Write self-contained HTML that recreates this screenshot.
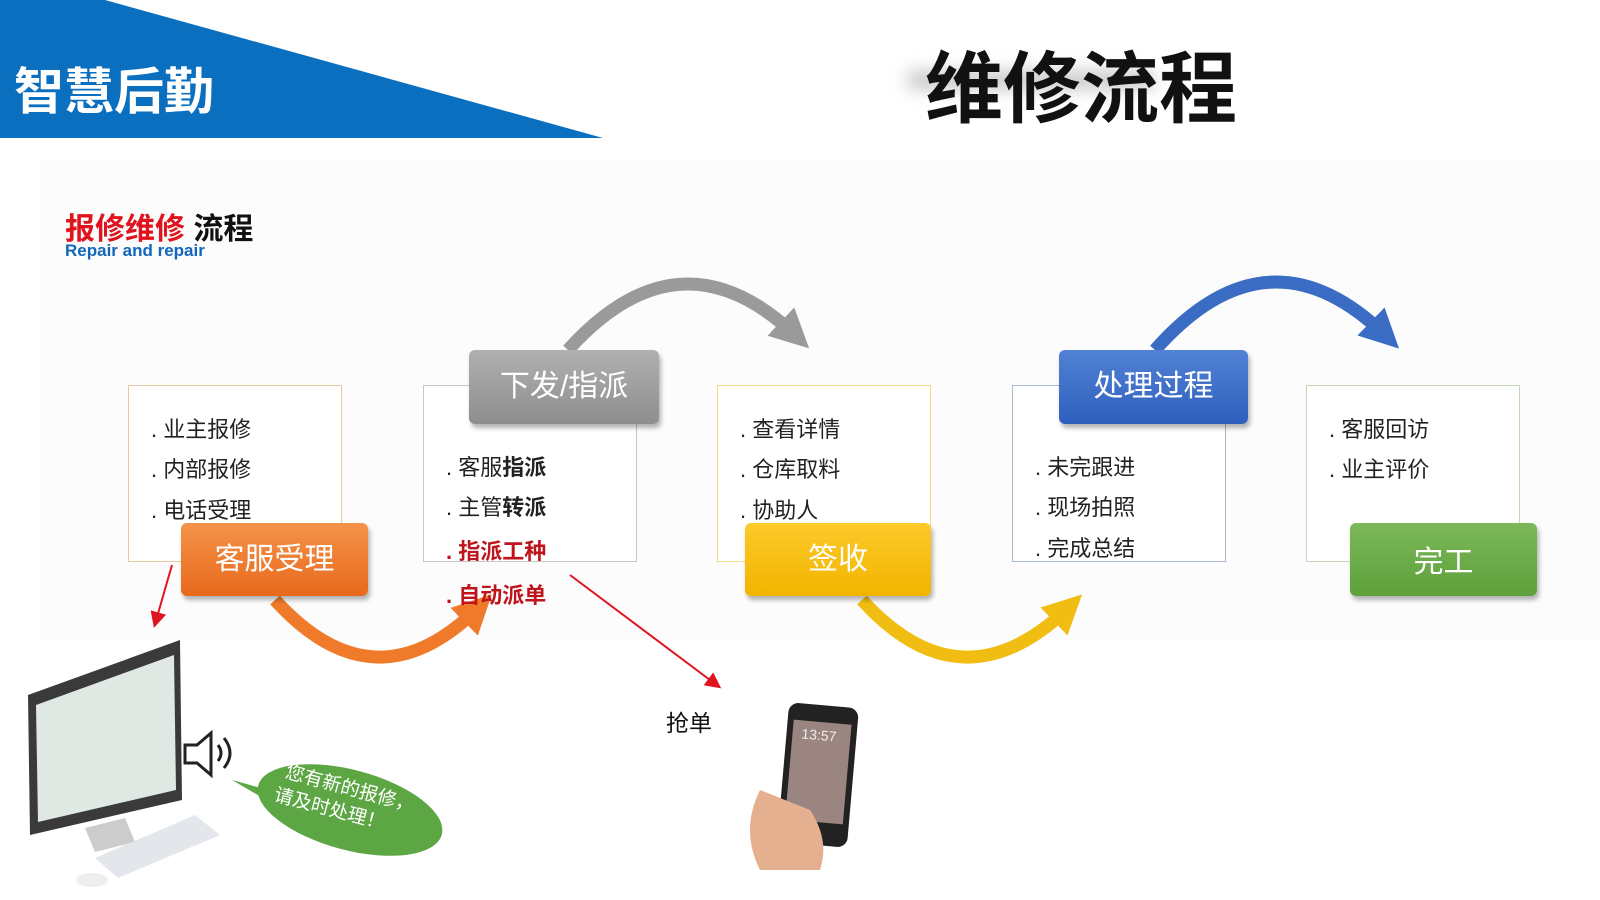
<!DOCTYPE html>
<html><head><meta charset="utf-8"><style>
body{margin:0;width:1600px;height:900px;background:#fff;position:relative;overflow:hidden;font-family:"Liberation Sans","Noto Sans CJK SC",sans-serif}
.a{position:absolute}
.box{position:absolute;background:#fff;border:1px solid #ccc}
.box div{position:absolute;left:22px;font-size:22px;color:#222;white-space:nowrap}
.lab{position:absolute;border-radius:6px;color:#fff;font-size:30px;text-align:center;box-shadow:2px 4px 5px rgba(0,0,0,.3)}
</style></head><body>
<div class="a" style="left:40px;top:160px;width:1560px;height:480px;background:#fcfcfc"></div>
<svg class="a" style="left:0;top:0" width="1600" height="900">
<polygon points="0,0 105,0 603,138 0,138" fill="#0b6fbf"/>
<defs>
<marker id="mg" markerWidth="3" markerHeight="3" refX="1.5" refY="1.5" orient="auto"><path d="M0,0 L3,1.5 L0,3z" fill="#9a9a9a"/></marker>
<marker id="mb" markerWidth="3" markerHeight="3" refX="1.5" refY="1.5" orient="auto"><path d="M0,0 L3,1.5 L0,3z" fill="#3a6cc4"/></marker>
<marker id="mo" markerWidth="3" markerHeight="3" refX="1.5" refY="1.5" orient="auto"><path d="M0,0 L3,1.5 L0,3z" fill="#ef7b2a"/></marker>
<marker id="my" markerWidth="3" markerHeight="3" refX="1.5" refY="1.5" orient="auto"><path d="M0,0 L3,1.5 L0,3z" fill="#f2bd12"/></marker>
<marker id="mr" markerWidth="8" markerHeight="8" refX="6" refY="4" orient="auto"><path d="M0,0 L8,4 L0,8z" fill="#e0141e"/></marker>
</defs>
<path d="M568,350 Q680,226 795,335" stroke="#9a9a9a" stroke-width="13" fill="none" marker-end="url(#mg)"/>
<path d="M1155,350 Q1268,222 1385,335" stroke="#3a6cc4" stroke-width="13" fill="none" marker-end="url(#mb)"/>
<path d="M275,600 Q375,710 478,608" stroke="#ef7b2a" stroke-width="13" fill="none" marker-end="url(#mo)"/>
<path d="M862,600 Q962,710 1068,608" stroke="#f2bd12" stroke-width="13" fill="none" marker-end="url(#my)"/>
<line x1="570" y1="575" x2="718" y2="686" stroke="#e0141e" stroke-width="2" marker-end="url(#mr)"/>
<line x1="172" y1="565" x2="155" y2="624" stroke="#e0141e" stroke-width="2" marker-end="url(#mr)"/>
<!-- computer -->
<path d="M28,695 L180,640 L182,800 L30,835z" fill="#3a3a3a"/>
<path d="M36,705 L174,655 L176,790 L38,822z" fill="#dfe8e2"/>
<path d="M85,828 L125,818 L135,842 L95,852z" fill="#ccc"/>
<path d="M95,858 L195,815 L220,835 L118,878z" fill="#e3e6ea"/>
<ellipse cx="92" cy="880" rx="16" ry="7" fill="#eee"/>
<path d="M185,745 h12 l14,-12 v42 l-14,-12 h-12z" fill="none" stroke="#222" stroke-width="3"/>
<path d="M218,745 q6,8 0,16 M224,738 q12,15 0,30" fill="none" stroke="#222" stroke-width="3"/>
<ellipse cx="350" cy="810" rx="95" ry="40" fill="#5da644" transform="rotate(15 350 810)"/>
<path d="M268,790 L232,780 L275,805z" fill="#5da644"/>
<text x="280" y="790" fill="#fff" font-size="19" transform="rotate(15 330 800)" font-family="Liberation Sans,Noto Sans CJK SC,sans-serif">您有新的报修，</text>
<text x="275" y="815" fill="#fff" font-size="19" transform="rotate(15 330 800)" font-family="Liberation Sans,Noto Sans CJK SC,sans-serif">请及时处理！</text>
<!-- phone -->
<rect x="783" y="705" width="70" height="140" rx="10" fill="#222" transform="rotate(5 818 775)"/>
<rect x="789" y="722" width="58" height="100" fill="#9a8580" transform="rotate(5 818 775)"/>
<text x="798" y="740" fill="#eee" font-size="14" transform="rotate(5 818 775)">13:57</text>
<path d="M760,790 q-20,40 0,80 h60 q10,-30 -10,-60z" fill="#e4b08f"/>
</svg>
<div class="a" style="left:14px;top:52px;font-size:50px;font-weight:bold;color:#fff">智慧后勤</div>
<div class="a" style="left:906px;top:70px;width:250px;height:20px;background:#ccc;filter:blur(8px);border-radius:10px"></div>
<div class="a" style="left:925px;top:27px;font-size:78px;font-weight:bold;color:#111">维修流程</div>
<div class="a" style="left:65px;top:204px;font-size:30px;font-weight:bold"><span style="color:#e0141e">报修维修</span> <span style="color:#111">流程</span></div>
<div class="a" style="left:65px;top:241px;font-size:17px;font-weight:bold;color:#1166bb">Repair and repair</div>

<div class="box" style="left:128px;top:385px;width:212px;height:175px;border-color:#e8c9a2"><div style="top:26px">. 业主报修</div><div style="top:66px">. 内部报修</div><div style="top:107px">. 电话受理</div></div>
<div class="box" style="left:423px;top:385px;width:212px;height:175px;border-color:#c8c8c8"><div style="top:64px">. 客服<b>指派</b></div><div style="top:104px">. 主管<b>转派</b></div><div style="top:148px;color:#c0141c;font-weight:bold">. 指派工种</div><div style="top:192px;color:#c0141c;font-weight:bold">. 自动派单</div></div>
<div class="box" style="left:717px;top:385px;width:212px;height:175px;border-color:#eedc8a"><div style="top:26px">. 查看详情</div><div style="top:66px">. 仓库取料</div><div style="top:107px">. 协助人</div></div>
<div class="box" style="left:1012px;top:385px;width:212px;height:175px;border-color:#a9b6d0"><div style="top:64px">. 未完跟进</div><div style="top:104px">. 现场拍照</div><div style="top:145px">. 完成总结</div></div>
<div class="box" style="left:1306px;top:385px;width:212px;height:175px;border-color:#c5d8b5"><div style="top:26px">. 客服回访</div><div style="top:66px">. 业主评价</div></div>

<div class="lab" style="left:181px;top:523px;width:187px;height:73px;line-height:73px;background:linear-gradient(#f4934a,#e8691c)">客服受理</div>
<div class="lab" style="left:469px;top:350px;width:190px;height:74px;line-height:74px;background:linear-gradient(#b0b0b0,#8e8e8e)">下发/指派</div>
<div class="lab" style="left:745px;top:523px;width:186px;height:73px;line-height:73px;background:linear-gradient(#fcca2a,#f2b400)">签收</div>
<div class="lab" style="left:1059px;top:350px;width:189px;height:74px;line-height:74px;background:linear-gradient(#5282d4,#2f5fbd)">处理过程</div>
<div class="lab" style="left:1350px;top:523px;width:187px;height:73px;line-height:80px;background:linear-gradient(#7cb85a,#5ea03a)">完工</div>
<div class="a" style="left:666px;top:704px;font-size:23px;color:#111">抢单</div>
</body></html>
